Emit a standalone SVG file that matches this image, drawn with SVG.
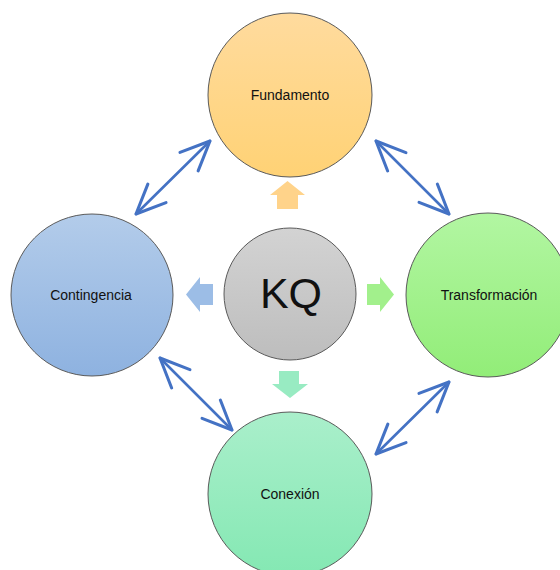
<svg xmlns="http://www.w3.org/2000/svg" width="560" height="570" viewBox="0 0 560 570">
  <style>
    .node { stroke: #5a5a5a; stroke-width: 1; }
    .label { font-family: "Liberation Sans", Arial, sans-serif; font-size: 14px; fill: #111; text-anchor: middle; }
    .big { font-family: "Liberation Sans", Arial, sans-serif; font-size: 43px; fill: #111; text-anchor: middle; }
    .link { fill: none; stroke: #4472C4; stroke-width: 2.6; stroke-linecap: round; marker-start: url(#head); marker-end: url(#head); }
  </style>
  <defs>
    <linearGradient id="gOrange" x1="0" y1="0" x2="0" y2="1">
      <stop offset="0" stop-color="#FFDB9E"/>
      <stop offset="1" stop-color="#FFD275"/>
    </linearGradient>
    <linearGradient id="gBlue" x1="0" y1="0" x2="0" y2="1">
      <stop offset="0" stop-color="#B3CCEA"/>
      <stop offset="1" stop-color="#8EB2E0"/>
    </linearGradient>
    <linearGradient id="gGreen" x1="0" y1="0" x2="0" y2="1">
      <stop offset="0" stop-color="#B2F6A2"/>
      <stop offset="1" stop-color="#92ED78"/>
    </linearGradient>
    <linearGradient id="gTeal" x1="0" y1="0" x2="0" y2="1">
      <stop offset="0" stop-color="#AAEFCB"/>
      <stop offset="1" stop-color="#84E8B3"/>
    </linearGradient>
    <linearGradient id="gGray" x1="0" y1="0" x2="0" y2="1">
      <stop offset="0" stop-color="#D3D3D3"/>
      <stop offset="1" stop-color="#BDBDBD"/>
    </linearGradient>
    <marker id="head" markerUnits="userSpaceOnUse" markerWidth="40" markerHeight="40" viewBox="-30 -15 34 30" refX="0" refY="0" orient="auto-start-reverse" overflow="visible">
      <path d="M-25,-11 L0,0 L-25,11" fill="none" stroke="#4472C4" stroke-width="2.6" stroke-linecap="round" stroke-linejoin="round"/>
    </marker>
  </defs>

  <!-- double-headed links between outer nodes -->
  <g id="connectors">
    <line class="link" x1="136" y1="214" x2="210" y2="141"/>
    <line class="link" x1="376" y1="141" x2="449" y2="214"/>
    <line class="link" x1="160" y1="358" x2="232" y2="430"/>
    <line class="link" x1="449" y1="382" x2="376" y2="454"/>
  </g>

  <!-- block arrows radiating from the centre -->
  <g id="block-arrows">
    <path d="M287.5,181 L305,195 L298,195 L298,209 L277,209 L277,195 L270,195 Z" fill="#FFD38A"/>
    <path d="M186,294.5 L200,277 L200,284 L213,284 L213,305 L200,305 L200,312 Z" fill="#9CBDE6"/>
    <path d="M394,294.5 L380,277 L380,284 L367,284 L367,305 L380,305 L380,312 Z" fill="#A2F08C"/>
    <path d="M290,398 L308,384 L299,384 L299,371 L279,371 L279,384 L272,384 Z" fill="#98EBC2"/>
  </g>

  <g id="fundamento">
    <circle class="node" cx="290" cy="95" r="82" fill="url(#gOrange)"/>
    <text class="label" x="290" y="100">Fundamento</text>
  </g>

  <g id="contingencia">
    <circle class="node" cx="92" cy="295" r="81" fill="url(#gBlue)"/>
    <text class="label" x="91" y="300">Contingencia</text>
  </g>

  <g id="kq">
    <circle class="node" cx="290" cy="294" r="66" fill="url(#gGray)"/>
    <text class="big" x="291" y="308">KQ</text>
  </g>

  <g id="transformacion">
    <circle class="node" cx="488" cy="295" r="82" fill="url(#gGreen)"/>
    <text class="label" x="489" y="300">Transformación</text>
  </g>

  <g id="conexion">
    <circle class="node" cx="290" cy="494" r="82" fill="url(#gTeal)"/>
    <text class="label" x="290" y="499">Conexión</text>
  </g>
</svg>
